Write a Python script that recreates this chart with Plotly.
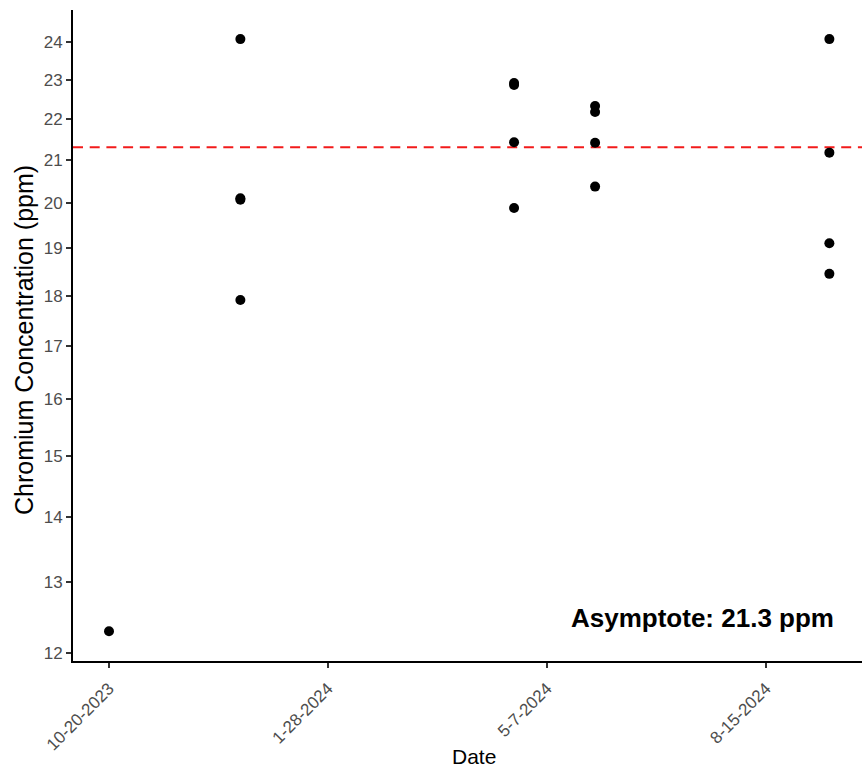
import pandas as pd
import plotly.graph_objects as go

# ---- data ----
dates = ["2023-10-20",
         "2023-12-19", "2023-12-19", "2023-12-19", "2023-12-19",
         "2024-04-22", "2024-04-22", "2024-04-22", "2024-04-22",
         "2024-05-29", "2024-05-29", "2024-05-29", "2024-05-29",
         "2024-09-13", "2024-09-13", "2024-09-13", "2024-09-13"]
chromium = [12.30,
            24.08, 20.10, 20.07, 17.91,
            22.91, 22.86, 21.42, 19.88,
            22.32, 22.17, 21.41, 20.37,
            24.08, 21.17, 19.10, 18.45]
asymptote = 21.3

x_tick_vals = ["2023-10-20", "2024-01-28", "2024-05-07", "2024-08-15"]
x_tick_text = ["10-20-2023", "1-28-2024", "5-7-2024", "8-15-2024"]
y_tick_vals = [12, 13, 14, 15, 16, 17, 18, 19, 20, 21, 22, 23, 24]
y_tick_text = [str(v) for v in y_tick_vals]

# ---- figure ----
base = pd.Timestamp(dates[0])
x0 = base - pd.Timedelta(days=16.44)
x1 = base + pd.Timedelta(days=343.9)

fig = go.Figure()
fig.add_trace(go.Scatter(
    x=[x0, x1], y=[asymptote, asymptote], mode="lines",
    line=dict(color="#F21B1B", width=2, dash="10px,6.7px"),
    hoverinfo="skip", showlegend=False, cliponaxis=True))
fig.add_trace(go.Scatter(
    x=pd.to_datetime(dates), y=chromium, mode="markers",
    marker=dict(color="black", size=10, line=dict(width=0)),
    showlegend=False, cliponaxis=False))

fig.update_layout(
    width=862, height=770,
    margin=dict(l=73, r=0, t=10, b=109),
    paper_bgcolor="white", plot_bgcolor="white",
    font=dict(family="Liberation Sans, Arial, sans-serif", color="black"),
    xaxis=dict(
        type="date", range=[x0, x1],
        tickvals=pd.to_datetime(x_tick_vals), ticktext=x_tick_text,
        tickangle=-45, tickfont=dict(size=17, color="#4D4D4D"),
        ticks="outside", ticklen=5, tickwidth=1.5, tickcolor="#333333",
        ticklabelstandoff=4,
        showline=True, linecolor="black", linewidth=2,
        showgrid=False, zeroline=False, mirror=False),
    yaxis=dict(
        type="log", range=[1.07524, 1.39600],
        tickvals=y_tick_vals, ticktext=y_tick_text,
        tickfont=dict(size=17, color="#4D4D4D"),
        ticks="outside", ticklen=5, tickwidth=1.5, tickcolor="#333333",
        showline=True, linecolor="black", linewidth=2,
        showgrid=False, zeroline=False, mirror=False),
    annotations=[
        dict(text="<b>Asymptote: 21.3 ppm</b>", xref="paper", yref="paper",
             x=(836 - 73) / 789, y=(661 - 618) / 651,
             xanchor="right", yanchor="middle", showarrow=False,
             font=dict(size=26, color="black")),
        dict(text="Date", xref="paper", yref="paper",
             x=(474 - 73) / 789, y=-(770 - 661) / 651,
             xanchor="center", yanchor="bottom", showarrow=False,
             font=dict(size=21, color="black")),
        dict(text="Chromium Concentration (ppm)", xref="paper", yref="paper",
             x=-(73 - 24) / 789, y=(661 - 340) / 651, textangle=-90,
             xanchor="center", yanchor="middle", showarrow=False,
             font=dict(size=25, color="black")),
    ],
)

fig.write_html("out.html")
